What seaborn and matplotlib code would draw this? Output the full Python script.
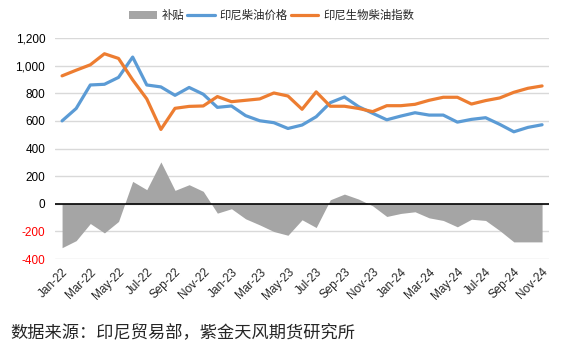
import pandas as pd
import seaborn as sns
import matplotlib.pyplot as plt
from matplotlib.patches import Patch
from matplotlib.lines import Line2D

months = ["Jan-22", "Feb-22", "Mar-22", "Apr-22", "May-22", "Jun-22", "Jul-22", "Aug-22", "Sep-22",
          "Oct-22", "Nov-22", "Dec-22", "Jan-23", "Feb-23", "Mar-23", "Apr-23", "May-23", "Jun-23",
          "Jul-23", "Aug-23", "Sep-23", "Oct-23", "Nov-23", "Dec-23", "Jan-24", "Feb-24", "Mar-24",
          "Apr-24", "May-24", "Jun-24", "Jul-24", "Aug-24", "Sep-24", "Oct-24", "Nov-24"]

# 印尼柴油价格
diesel = [600, 690, 860, 865, 915, 1062, 860, 846, 785, 842, 793, 698, 708, 638, 601, 587, 545,
          570, 630, 732, 773, 703, 655, 608, 635, 659, 642, 642, 591, 611, 623, 575, 521, 553, 572]
# 印尼生物柴油指数
biodiesel = [926, 967, 1006, 1086, 1052, 897, 759, 538, 691, 705, 708, 776, 739, 749, 759, 802, 780,
             684, 810, 706, 706, 690, 667, 710, 710, 720, 749, 771, 771, 722, 747, 766, 807, 836, 853]
# 补贴
subsidy = [-318, -267, -143, -211, -128, 162, 102, 303, 97, 138, 90, -68, -36, -109, -153, -201, -228,
           -116, -172, 29, 70, 34, -15, -92, -70, -58, -102, -121, -167, -112, -121, -194, -276, -276, -276]

df = pd.DataFrame({"idx": range(len(months)), "month": months,
                   "diesel": diesel, "biodiesel": biodiesel, "subsidy": subsidy})

blue = "#5B9BD5"
orange = "#ED7D31"
gray = "#A5A5A5"

sns.set_style("white")
plt.rcParams["font.family"] = ["Liberation Sans", "Noto Sans CJK SC", "DejaVu Sans"]

fig = plt.figure(figsize=(5.66, 3.62), dpi=100)
ax = fig.add_axes([0.0972, 0.2845, 0.873, 0.6105])

ax.fill_between(df["idx"], 0, df["subsidy"], color=gray, linewidth=0, zorder=2)
sns.lineplot(data=df, x="idx", y="diesel", color=blue, linewidth=2.3, ax=ax, zorder=4)
sns.lineplot(data=df, x="idx", y="biodiesel", color=orange, linewidth=2.3, ax=ax, zorder=4)
ax.axhline(0, color="black", linewidth=1.2, zorder=3)

ax.set_xlim(-0.5, len(months) - 0.5)
ax.set_ylim(-400, 1200)
ax.set_yticks(range(-400, 1201, 200))
ax.set_yticklabels([f"{v:,}" for v in range(-400, 1201, 200)], fontsize=8.5)
for lab, v in zip(ax.get_yticklabels(), range(-400, 1201, 200)):
    lab.set_color("red" if v < 0 else "black")
ax.set_xticks(df["idx"][::2])
ax.set_xticklabels(df["month"][::2], rotation=45, ha="right", rotation_mode="anchor", fontsize=8.5)
ax.tick_params(axis="both", length=0, pad=7)
ax.tick_params(axis="x", pad=5)

ax.grid(axis="y", color="#D9D9D9", linewidth=1, zorder=0)
ax.set_axisbelow(True)
for s in ax.spines.values():
    s.set_visible(False)
ax.set_xlabel("")
ax.set_ylabel("")

handles = [Patch(facecolor=gray, edgecolor="none"),
           Line2D([], [], color=blue, linewidth=2.3),
           Line2D([], [], color=orange, linewidth=2.3)]
fig.legend(handles, ["补贴", "印尼柴油价格", "印尼生物柴油指数"], loc="center",
           bbox_to_anchor=(0.48, 0.958), ncol=3, frameon=False,
           handlelength=2.4, handletextpad=0.4, columnspacing=0.3,
           prop={"family": ["Noto Sans CJK SC"], "size": 8.2})

fig.text(0.018, 0.08, "数据来源：印尼贸易部，紫金天风期货研究所", fontsize=12.4,
         family=["Noto Sans CJK SC"], va="center")

fig.savefig("out.png", dpi=100)
